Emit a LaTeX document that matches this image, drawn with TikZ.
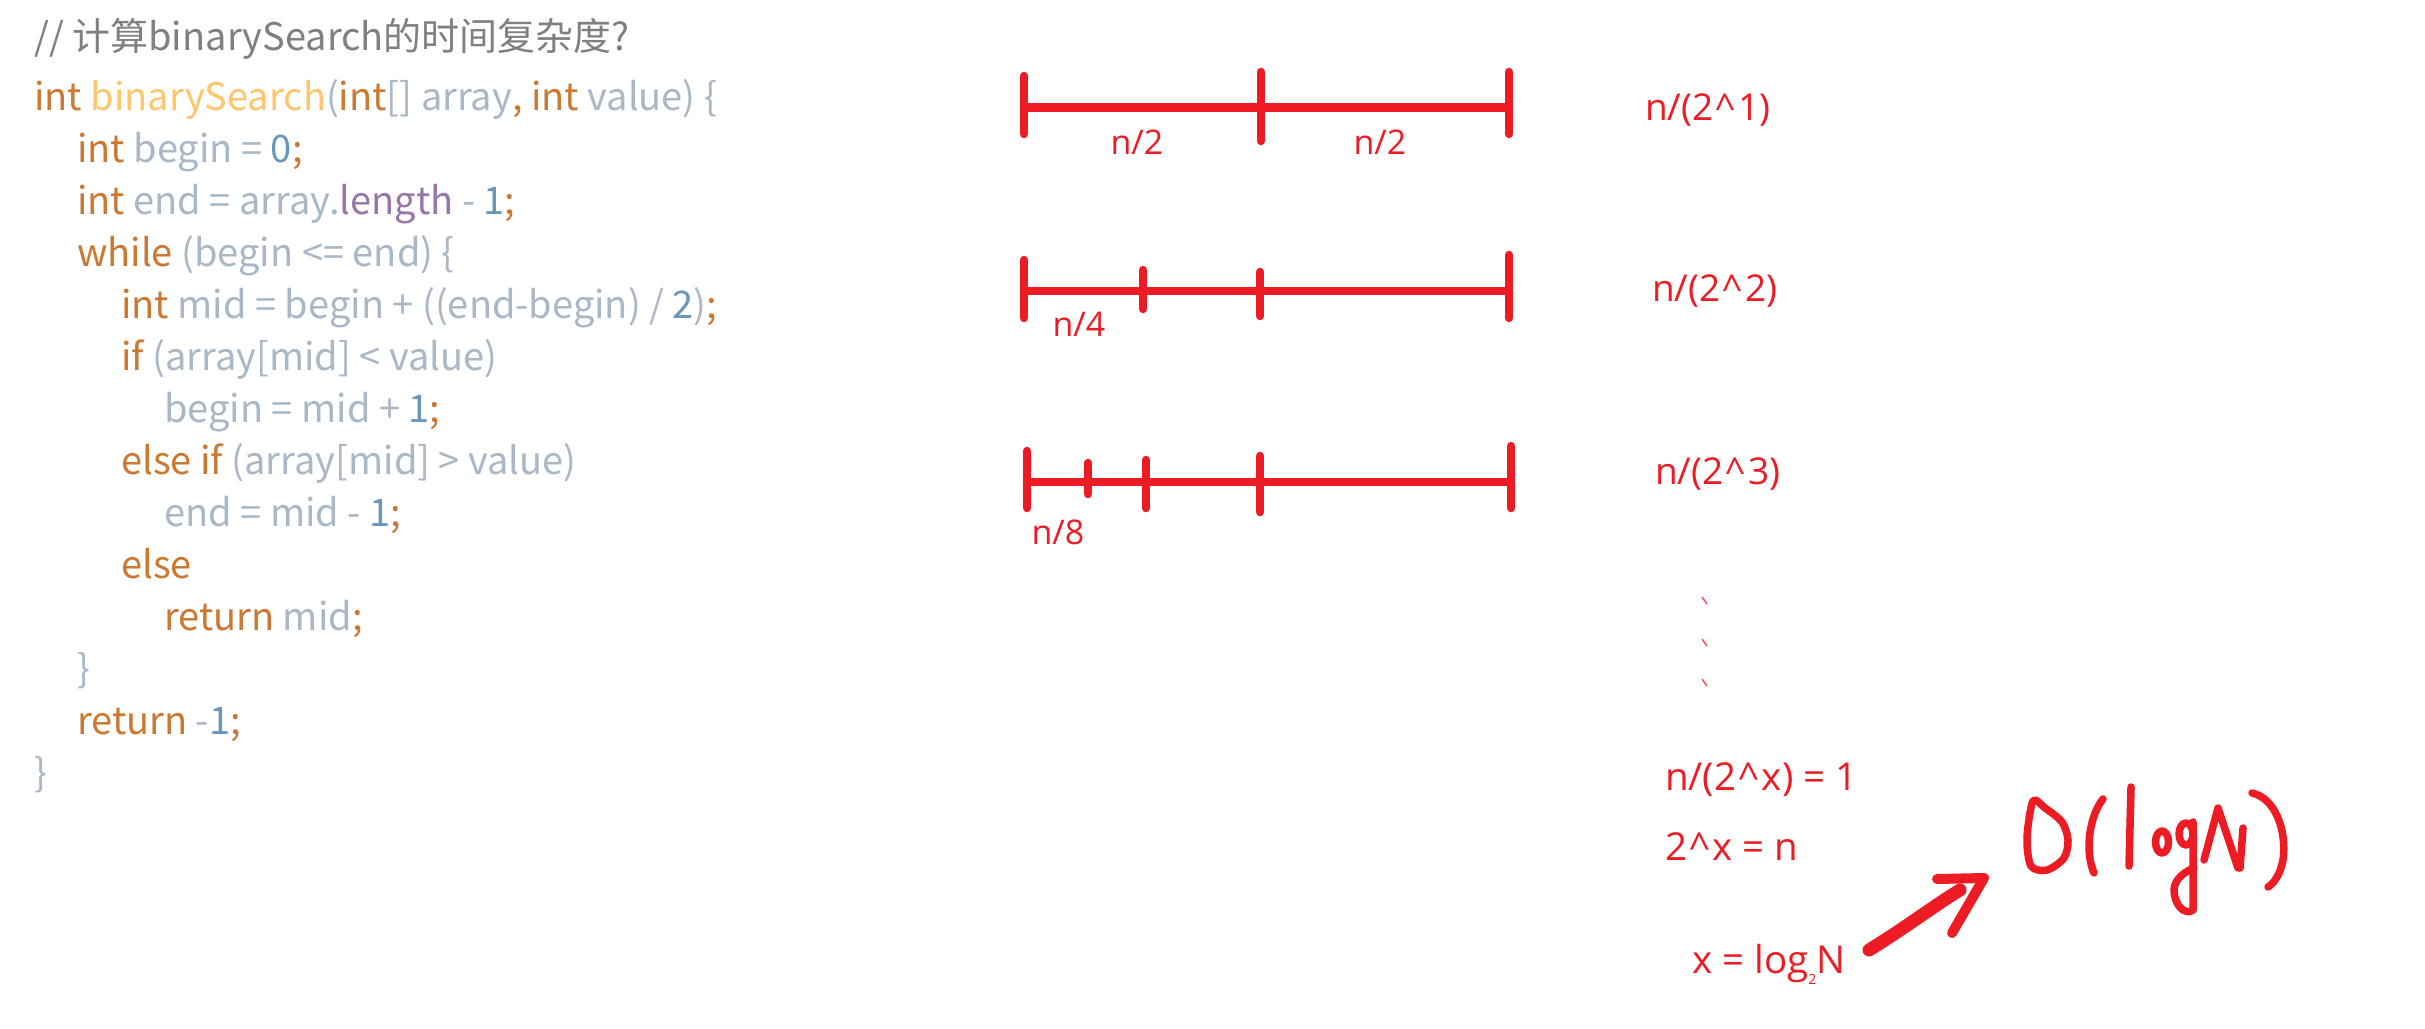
\documentclass[tikz,border=0pt]{standalone}
\usepackage{fontspec}
\setmainfont{Noto Sans CJK SC}
\newfontfamily\labfont{Open Sans}
\definecolor{ckw}{HTML}{CC7832}
\definecolor{cfn}{HTML}{FFC66D}
\definecolor{cid}{HTML}{A9B7C6}
\definecolor{cnm}{HTML}{6897BB}
\definecolor{cfd}{HTML}{9876AA}
\definecolor{ctitle}{HTML}{808080}
\definecolor{pred}{HTML}{ED1C24}
\newcommand{\kw}[1]{\textcolor{ckw}{#1}}
\newcommand{\fn}[1]{\textcolor{cfn}{#1}}
\newcommand{\idf}[1]{\textcolor{cid}{#1}}
\newcommand{\nm}[1]{\textcolor{cnm}{#1}}
\newcommand{\fd}[1]{\textcolor{cfd}{#1}}
\newcommand{\pu}[1]{\textcolor{ckw}{#1}}
\newcommand{\caretsym}{\hspace{0.06em}\textasciicircum\hspace{0.06em}}
\begin{document}
\begin{tikzpicture}[x=1pt,y=-1pt,
  code/.style={inner sep=0pt, anchor=base west, font=\fontsize{38}{44}\selectfont},
  lab/.style={inner sep=0pt, text=pred, font=\labfont\fontsize{34}{40}\selectfont},
  biglab/.style={lab, anchor=base west, font=\labfont\fontsize{37}{44}\selectfont},
  eqlab/.style={lab, anchor=base west, font=\labfont\fontsize{38.5}{46}\selectfont},
  seg/.style={draw=pred, line width=8.5pt, line cap=round},
  hand/.style={draw=pred, line width=7.5pt, line cap=round, line join=round},
  dotmark/.style={draw=pred!70, line width=1.6pt}]
\useasboundingbox (0,0) rectangle (2425,1028);
\fill[white] (0,0) rectangle (2425,1028);
% title and code
\node[code, text=ctitle] (title) at (34,50) {// 计算binarySearch的时间复杂度?};
\node[code] (c1) at (34,110) {\kw{int} \fn{binarySearch}\idf{(}\kw{int}\idf{[] array}\pu{,} \kw{int} \idf{value) \{}};
\node[code] (c2) at (77,162) {\kw{int} \idf{begin =} \nm{0}\pu{;}};
\node[code] (c3) at (77,214) {\kw{int} \idf{end = array.}\fd{length} \idf{-} \nm{1}\pu{;}};
\node[code] (c4) at (77,266) {\kw{while} \idf{(begin <= end) \{}};
\node[code] (c5) at (121,318) {\kw{int} \idf{mid = begin + ((end-begin) /} \nm{2}\idf{)}\pu{;}};
\node[code] (c6) at (121,370) {\kw{if} \idf{(array[mid] < value)}};
\node[code] (c7) at (164,422) {\idf{begin = mid +} \nm{1}\pu{;}};
\node[code] (c8) at (121,474) {\kw{else if} \idf{(array[mid] > value)}};
\node[code] (c9) at (164,526) {\idf{end = mid -} \nm{1}\pu{;}};
\node[code] (c10) at (121,578) {\kw{else}};
\node[code] (c11) at (164,630) {\kw{return} \idf{mid}\pu{;}};
\node[code] (c12) at (77,682) {\idf{\}}};
\node[code] (c13) at (77,734) {\kw{return} \idf{-}\nm{1}\pu{;}};
\node[code] (c14) at (34,786) {\idf{\}}};
% row 1
\draw[seg] (1024,107.5) -- (1509,107.5);
\draw[seg] (1024,76) -- (1024,134);
\draw[seg] (1261,72) -- (1261,141);
\draw[seg] (1509,72) -- (1509,134);
\node[lab, anchor=base] (h1) at (1137,154) {n/2};
\node[lab, anchor=base] (h2) at (1380,154) {n/2};
% row 2
\draw[seg] (1024,291) -- (1509,291);
\draw[seg] (1024,260) -- (1024,318);
\draw[seg] (1143,270) -- (1143,309);
\draw[seg] (1260,272) -- (1260,316);
\draw[seg] (1509,255) -- (1509,318);
\node[lab, anchor=base] (q1) at (1079,336) {n/4};
% row 3
\draw[seg] (1027,482) -- (1511,482);
\draw[seg] (1027,451) -- (1027,508);
\draw[seg] (1088,463) -- (1088,494);
\draw[seg] (1146,460) -- (1146,508);
\draw[seg] (1260,456) -- (1260,512);
\draw[seg] (1511,446) -- (1511,508);
\node[lab, anchor=base] (e1) at (1058,544) {n/8};
% right labels
\node[biglab] (p1) at (1645,120) {n/(2\caretsym1)};
\node[biglab] (p2) at (1652,301) {n/(2\caretsym2)};
\node[biglab] (p3) at (1655,484) {n/(2\caretsym3)};
% dots
\draw[dotmark] (1702,597) -- (1707,604);
\draw[dotmark] (1702,639) -- (1707,646);
\draw[dotmark] (1702,679) -- (1707,686);
% equations
\node[eqlab] (eq1) at (1665,790) {n/(2\caretsym x) = 1};
\node[eqlab] (eq2) at (1665,860) {2\caretsym x = n};
\node[eqlab] (eq3) at (1692,973) {x = log\raisebox{-0.3em}{\fontsize{14}{14}\selectfont 2}N};
% arrow
\coordinate (at) at (1869,950);
\coordinate (ah) at (1960,890);
\draw[hand, line width=13pt] (at) .. controls (1905,928) and (1935,905) .. (ah);
\draw[hand, line width=10pt] (1937,879) -- (1984,878) -- (1952,933);
% O(logN)
\draw[hand] plot[smooth cycle] coordinates {(2033,801) (2045,808) (2062,822) (2068,840) (2064,858) (2047,870) (2031,866) (2027,838)};
\draw[hand] (2103,799) .. controls (2090,815) and (2084,850) .. (2094,873);
\draw[hand] (2131,787) -- (2129,866);
\draw[hand] (2162,842) ellipse [x radius=6.5, y radius=11];
\draw[hand] (2186,834) ellipse [x radius=7, y radius=11];
\draw[hand] (2193,822) -- (2193,910) .. controls (2185,916) and (2174,905) .. (2174,890) .. controls (2174,878) and (2188,870) .. (2194,868);
\draw[hand] (2204,860) -- (2218,808) -- (2238,868);
\draw[hand] (2240,868) -- (2243,828);
\draw[hand] (2252,793) .. controls (2275,798) and (2287,830) .. (2283,860) .. controls (2280,875) and (2274,883) .. (2268,887);
\end{tikzpicture}
\end{document}
